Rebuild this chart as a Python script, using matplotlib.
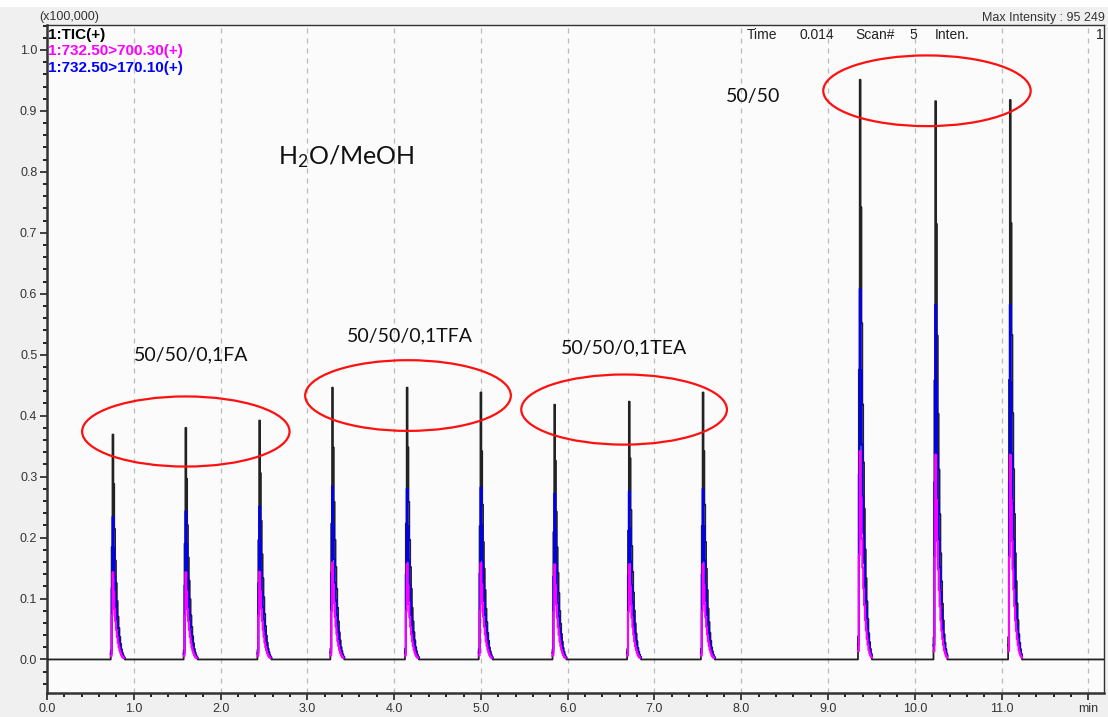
import numpy as np
import matplotlib
matplotlib.use('Agg')
import matplotlib.pyplot as plt
from matplotlib.patches import Ellipse, Rectangle

# peak apex times (min) and heights (x100,000)
rt = [0.755, 1.60, 2.45, 3.29, 4.15, 5.00, 5.85, 6.71, 7.56, 9.37, 10.24, 11.10]
tic_h = [0.369, 0.380, 0.392, 0.446, 0.446, 0.438, 0.418, 0.423, 0.438, 0.951, 0.916, 0.918]
blue_h = [0.234, 0.243, 0.251, 0.284, 0.280, 0.282, 0.272, 0.276, 0.280, 0.608, 0.582, 0.582]
mag_h = [0.143, 0.143, 0.144, 0.159, 0.157, 0.158, 0.156, 0.156, 0.157, 0.342, 0.336, 0.336]

# relative peak profile per scan (0.01 min)
prof_off = [-3, -2, -1, 0, 1, 2, 3, 4, 5, 6, 7, 8, 9, 10, 11, 12, 13, 14]
prof_val = [0.0, 0.04, 0.5, 1.0, 0.78, 0.58, 0.44, 0.34, 0.26, 0.19, 0.14, 0.10,
            0.07, 0.045, 0.03, 0.018, 0.01, 0.0]

# ellipses (centre time, centre height, width min, height)
ell_x = [1.60, 4.16, 6.65, 10.14]
ell_y = [0.374, 0.433, 0.41, 0.933]
ell_w = [2.39, 2.37, 2.37, 2.39]
ell_h = [0.115, 0.116, 0.115, 0.116]

labels = ['50/50/0,1FA', '50/50/0,1TFA', '50/50/0,1TEA', '50/50']
lab_x = [1.66, 4.18, 6.65, 8.14]
lab_y = [0.50, 0.531, 0.511, 0.923]

dt = 0.01
t = np.arange(0, 12.2, dt)


def trace(heights):
    y = np.zeros_like(t)
    for r, h in zip(rt, heights):
        i0 = int(round(r / dt))
        for o, v in zip(prof_off, prof_val):
            y[i0 + o] += h * v
    return y


tic = trace(tic_h)
blue = trace(blue_h)
mag = trace(mag_h)
# only the peaks of the MRM traces show above the TIC baseline
blue = np.where(blue > 0.002, blue, np.nan)
mag = np.where(mag > 0.002, mag, np.nan)

plt.rcParams['mathtext.default'] = 'regular'
plt.rcParams['font.family'] = ['Liberation Sans', 'DejaVu Sans']
fig = plt.figure(figsize=(11.08, 7.17), dpi=100, facecolor='#f0f0f0')
fig.patches.append(Rectangle((0, 0.99), 1, 0.01, transform=fig.transFigure,
                             facecolor='white', edgecolor='none', zorder=-1))
ax = fig.add_axes([0.0424, 0.0335, 0.954, 0.9317])
ax.set_facecolor('#fbfbfb')

ax.plot(t, tic, color='#222222', lw=1.3, drawstyle='steps-mid', zorder=3)
ax.plot(t, blue, color='#0000ee', lw=1.5, drawstyle='steps-mid', zorder=4)
ax.plot(t, mag, color='#ff00ff', lw=1.5, drawstyle='steps-mid', zorder=5)

for x, y, w, h in zip(ell_x, ell_y, ell_w, ell_h):
    ax.add_patch(Ellipse((x, y), w, h, fill=False, edgecolor='#ff1010', lw=1.6, zorder=6))

for s, x, y in zip(labels, lab_x, lab_y):
    ax.text(x, y, s, ha='center', va='center', fontsize=14, family='Lato', color='#111111')
ax.text(3.45, 0.825, 'H$_2$O/MeOH', ha='center', va='center', fontsize=18,
        family='Lato', color='#111111')

ax.set_xlim(0, 12.18)
ax.set_ylim(-0.055, 1.041)
xt = np.arange(0, 13, 1.0)
ax.set_xticks(xt)
ax.set_xticklabels(['%.1f' % v for v in xt[:-1]] + ['min'])
ax.set_xticks(np.arange(0, 12.18, 0.2), minor=True)
yt = np.arange(0, 1.05, 0.1)
ax.set_yticks(yt)
ax.set_yticklabels(['%.1f' % v for v in yt])
ax.set_yticks(np.arange(-0.04, 1.041, 0.02), minor=True)
ax.tick_params(axis='both', labelsize=9, labelcolor='#333333', color='#222222',
               length=5, width=1.2, pad=2)
ax.tick_params(which='minor', length=3, width=1.2)
ax.grid(axis='x', which='major', linestyle=(0, (4, 4)), color='#bbbbbb', lw=0.9)
for sp in ax.spines.values():
    sp.set_linewidth(1.0)
    sp.set_color('#333333')
ax.spines['left'].set_linewidth(1.8)
ax.spines['bottom'].set_linewidth(1.8)

ax.text(-0.007, 1.003, '(x100,000)', transform=ax.transAxes, fontsize=9,
        color='#333333', ha='left', va='bottom')
ax.text(0.001, 0.985, '1:TIC(+)', transform=ax.transAxes, fontsize=11,
        fontweight='bold', color='black', va='center')
ax.text(0.001, 0.961, '1:732.50>700.30(+)', transform=ax.transAxes, fontsize=11,
        fontweight='bold', color='#ff00ff', va='center')
ax.text(0.001, 0.936, '1:732.50>170.10(+)', transform=ax.transAxes, fontsize=11,
        fontweight='bold', color='#0000ff', va='center')
fig.text(0.997, 0.975, 'Max Intensity : 95 249', fontsize=9, color='#333333',
         ha='right', va='center')

info = ['Time', '0.014', 'Scan#', '5', 'Inten.', '1']
info_x = [747, 800, 855, 917, 935, 1104]
for s, xp in zip(info, info_x):
    fig.text(xp / 1108, 1 - 35 / 717, s, fontsize=10, color='#222222',
             ha='right' if s in ('5', '1') else 'left', va='center')

fig.savefig('out.png', dpi=100, facecolor=fig.get_facecolor())
